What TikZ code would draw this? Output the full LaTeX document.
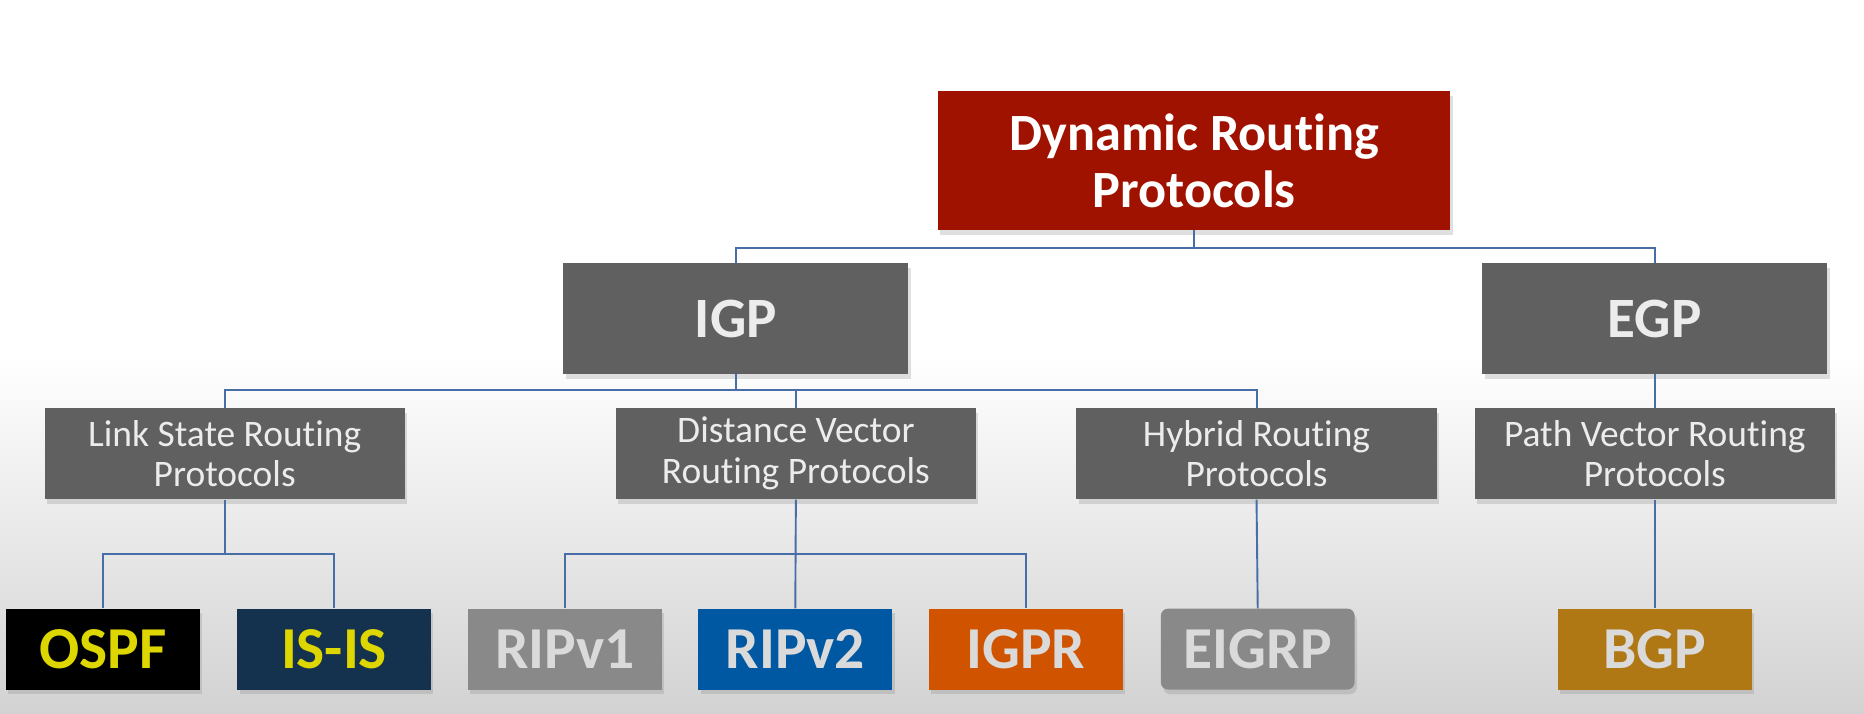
\documentclass[tikz,border=0pt]{standalone}
\usepackage{fontspec}
\setmainfont{Carlito}[Ligatures=NoCommon]
\usetikzlibrary{shadows}

\definecolor{rootred}{RGB}{160,18,0}
\definecolor{boxgray}{RGB}{96,96,96}
\definecolor{textgray}{RGB}{236,236,236}
\definecolor{leafgray}{RGB}{137,137,137}
\definecolor{leaftext}{RGB}{218,218,218}
\definecolor{ospfblack}{RGB}{0,0,0}
\definecolor{isisnavy}{RGB}{20,50,77}
\definecolor{ripblue}{RGB}{0,88,163}
\definecolor{igprorange}{RGB}{208,84,0}
\definecolor{bgpgold}{RGB}{176,120,20}
\definecolor{yellowtext}{RGB}{222,214,0}
\definecolor{linkblue}{RGB}{72,110,168}
\definecolor{bggray}{RGB}{210,210,210}

\tikzset{
  box/.style={draw=none, align=center, inner sep=0pt,
    drop shadow={opacity=0.25, shadow xshift=2pt, shadow yshift=-4pt}},
  rootbox/.style={box, fill=rootred, text=white, minimum width=431pt, minimum height=117pt,
    font=\bfseries\fontsize{44}{48}\selectfont},
  topbox/.style={box, fill=boxgray, text=textgray, minimum width=290pt, minimum height=93pt,
    font=\bfseries\fontsize{48}{52}\selectfont},
  midbox/.style={box, fill=boxgray, text=textgray, minimum width=303pt, minimum height=77pt,
    font=\fontsize{31.5}{34}\selectfont},
  leaf/.style={box, minimum width=163pt, minimum height=68pt, text=leaftext,
    font=\bfseries\fontsize{50}{52}\selectfont},
  link/.style={draw=linkblue, line width=1.6pt}
}

\begin{document}
\begin{tikzpicture}[x=1pt, y=-1pt]
  % background
  \useasboundingbox (0,0) rectangle (1568,600.6);
  \fill[white] (0,0) rectangle (1568,600.6);
  \shade[top color=white, bottom color=bggray] (0,300) rectangle (1568,600.6);

  % boxes
  \node[rootbox] (root) at (1004.5,135) {Dynamic Routing\\Protocols};
  \node[topbox] (igp) at (619,268) {IGP};
  \node[topbox] (egp) at (1392,268) {EGP};

  \node[midbox] (ls) at (189,381.5) {Link State Routing\\Protocols};
  \node[midbox] (dv) at (669.5,381.5) {Distance Vector\\Routing Protocols};
  \node[midbox] (hy) at (1057,381.5) {Hybrid Routing\\Protocols};
  \node[midbox] (pv) at (1392,381.5) {Path Vector Routing\\Protocols};

  \node[leaf, fill=ospfblack, text=yellowtext] (ospf) at (86.5,546) {OSPF};
  \node[leaf, fill=isisnavy, text=yellowtext] (isis) at (281,546) {IS-IS};
  \node[leaf, fill=leafgray] (ripa) at (475,546) {RIPv1};
  \node[leaf, fill=ripblue] (ripb) at (669,546) {RIPv2};
  \node[leaf, fill=igprorange] (igpr) at (863,546) {IGPR};
  \node[leaf, fill=leafgray, rounded corners=6pt] (eigrp) at (1058,546) {EIGRP};
  \node[leaf, fill=bgpgold] (bgp) at (1392,546) {BGP};

  % connectors
  \draw[link] (root.south) -- ++(0,14.5);
  \draw[link] (igp.north) -- ++(0,-13) -| (egp.north);

  \draw[link] (igp.south) -- ++(0,13.5);
  \draw[link] (ls.north) -- ++(0,-15) -| (hy.north);
  \draw[link] (dv.north) -- ++(0,-15);
  \draw[link] (egp.south) -- (pv.north);

  \draw[link] (ls.south) -- ++(0,46);
  \draw[link] (ospf.north) -- ++(0,-46) -| (isis.north);
  \draw[link] (dv.south) -- (ripb.north);
  \draw[link] (ripa.north) -- ++(0,-46) -| (igpr.north);
  \draw[link] (hy.south) -- (eigrp.north);
  \draw[link] (pv.south) -- (bgp.north);
\end{tikzpicture}
\end{document}
